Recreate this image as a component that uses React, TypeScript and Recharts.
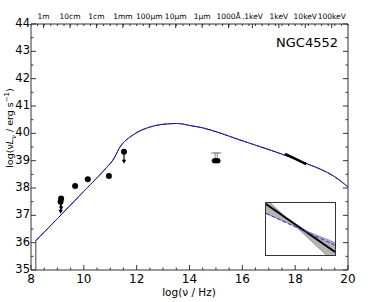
import React from "react";
import {
  ComposedChart,
  Line,
  Area,
  Scatter,
  ErrorBar,
  XAxis,
  YAxis,
} from "recharts";

// SED model curve (log nu, log nuLnu)
const modelX = [8.18, 9.0, 10.0, 10.88, 11.1, 11.37, 11.86, 12.5, 13.0, 13.53, 14.0, 14.5, 15.16, 15.9, 17.05, 18.0, 18.57, 19.0, 19.45, 20.0];
const modelY = [36.07, 36.88, 37.88, 38.77, 39.02, 39.5, 39.94, 40.23, 40.33, 40.36, 40.29, 40.2, 40.01, 39.76, 39.39, 39.06, 38.84, 38.67, 38.44, 38.04];

// low-frequency cutoff of the model
const cutX = [8.18, 8.18];
const cutY = [35, 36.07];

// photometry
const detX = [9.67, 10.15, 10.95];
const detY = [38.07, 38.32, 38.44];
const limX = [9.12, 9.14, 11.52];
const limY = [37.5, 37.62, 39.33];
const optX = [14.97, 15.05];
const optY = [39.0, 39.0];
const optErr = [0.28, 0.28];

// X-ray power law
const xrayX = [17.62, 18.42];
const xrayY = [39.25, 38.87];

// inset (zoom on the X-ray slope), arbitrary units
const insetX = [0, 0.44, 1];
const bandLo = [0.8, 0.54, -0.16];
const bandHi = [1.08, 0.54, 0.24];
const insetLineX = [0, 1];
const insetBlack = [0.98, 0.06];
const insetBlue = [0.8, 0.19];

// axis ticks
const xMajor = [8, 10, 12, 14, 16, 18, 20];
const xTicks = Array.from({ length: 25 }, (_, i) => 8 + i * 0.5);
const yTicks = Array.from({ length: 19 }, (_, i) => 35 + i * 0.5);
const topLabels = ["1m", "10cm", "1cm", "1mm", "100μm", "10μm", "1μm", "1000Å", ".1keV", "1keV", "10keV", "100keV"];
const topPos = [8.477, 9.477, 10.477, 11.477, 12.477, 13.477, 14.477, 15.477, 16.383, 17.383, 18.383, 19.383];
const topMinor = Array.from({ length: 49 }, (_, i) => 8 + i * 0.25);

const FONT = "DejaVu Sans, sans-serif";
const AX = "#333";

const zip = (xs: number[], ys: number[]) => xs.map((x, i) => ({ x, y: ys[i] }));

const modelData = zip(modelX, modelY);
const cutData = zip(cutX, cutY);
const detData = zip(detX, detY);
const limData = zip(limX, limY);
const optData = optX.map((x, i) => ({ x, y: optY[i], err: [0, optErr[i]] }));
const xrayData = zip(xrayX, xrayY);

const bandData = insetX.map((x, i) => ({ x, band: [bandLo[i], bandHi[i]] }));
const blackData = zip(insetLineX, insetBlack);
const blueData = zip(insetLineX, insetBlue);

const BottomTick = (p: any) => {
  const v = p.payload.value;
  const major = xMajor.includes(v);
  return (
    <g>
      <line x1={p.x} y1={p.y} x2={p.x} y2={p.y - (major ? 5 : 2.5)} stroke={AX} />
      {major && (
        <text x={p.x} y={p.y + 13} textAnchor="middle" fontSize={12} fontFamily={FONT} fill="#000">
          {v}
        </text>
      )}
    </g>
  );
};

const TopTick = (p: any) => {
  const v = p.payload.value;
  const idx = topPos.findIndex((t) => Math.abs(t - v) < 1e-6);
  return (
    <g>
      <line x1={p.x} y1={p.y} x2={p.x} y2={p.y + (idx >= 0 ? 4 : 2)} stroke={AX} />
      {idx >= 0 && (
        <text x={p.x} y={p.y - 5} textAnchor="middle" fontSize={7.5} fontFamily={FONT} fill="#000">
          {topLabels[idx]}
        </text>
      )}
    </g>
  );
};

const LeftTick = (p: any) => {
  const v = p.payload.value;
  const major = Number.isInteger(v);
  return (
    <g>
      <line x1={p.x} y1={p.y} x2={p.x + (major ? 5 : 2.5)} y2={p.y} stroke={AX} />
      {major && (
        <text x={p.x - 1} y={p.y + 3} textAnchor="end" fontSize={11.5} fontFamily={FONT} fill="#000">
          {v}
        </text>
      )}
    </g>
  );
};

const RightTick = (p: any) => {
  const major = Number.isInteger(p.payload.value);
  return <line x1={p.x} y1={p.y} x2={p.x - (major ? 5 : 2.5)} y2={p.y} stroke={AX} />;
};

const Dot = (p: any) => <circle cx={p.cx} cy={p.cy} r={3} fill="#000" />;

const UpperLimit = (p: any) => (
  <g>
    <circle cx={p.cx} cy={p.cy} r={3} fill="#000" />
    <line x1={p.cx} y1={p.cy} x2={p.cx} y2={p.cy + 10} stroke="#000" strokeWidth={1.2} />
    <path d={`M${p.cx - 2.2},${p.cy + 8} L${p.cx + 2.2},${p.cy + 8} L${p.cx},${p.cy + 12} Z`} fill="#000" />
  </g>
);

const OptMark = (p: any) => <rect x={p.cx - 3} y={p.cy - 2.5} width={6} height={5} rx={1.5} fill="#000" />;

export default function App() {
  return (
    <div style={{ position: "absolute", left: 0, top: 0, width: 382, height: 302, background: "#fff" }}>
      <ComposedChart width={382} height={302} margin={{ top: 0, right: 0, bottom: 0, left: 0 }}>
        <XAxis
          xAxisId="b"
          type="number"
          dataKey="x"
          domain={[8, 20]}
          ticks={xTicks}
          interval={0}
          height={32}
          tickSize={0}
          tickMargin={0}
          tick={BottomTick}
          axisLine={{ stroke: AX }}
          tickLine={false}
        />
        <XAxis
          xAxisId="t"
          orientation="top"
          type="number"
          dataKey="x"
          domain={[8, 20]}
          ticks={[...topMinor, ...topPos].sort((a, b) => a - b)}
          interval={0}
          height={24}
          tickSize={0}
          tickMargin={0}
          tick={TopTick}
          axisLine={{ stroke: AX }}
          tickLine={false}
        />
        <YAxis
          yAxisId="l"
          type="number"
          domain={[35, 44]}
          ticks={yTicks}
          interval={0}
          width={31}
          tickSize={0}
          tickMargin={0}
          tick={LeftTick}
          axisLine={{ stroke: AX }}
          tickLine={false}
        />
        <YAxis
          yAxisId="r"
          orientation="right"
          type="number"
          domain={[35, 44]}
          ticks={yTicks}
          interval={0}
          width={34}
          tickSize={0}
          tickMargin={0}
          tick={RightTick}
          axisLine={{ stroke: AX }}
          tickLine={false}
        />
        {/* invisible copy so the top / right axes get ticks */}
        <Line xAxisId="t" yAxisId="r" data={modelData} dataKey="y" stroke="none" dot={false} isAnimationActive={false} />
        <Line xAxisId="b" yAxisId="l" data={cutData} dataKey="y" stroke="#808080" strokeWidth={1.5} dot={false} isAnimationActive={false} />
        <Line xAxisId="b" yAxisId="l" data={modelData} dataKey="y" type="monotone" stroke="#000" strokeWidth={1} dot={false} isAnimationActive={false} />
        <Line xAxisId="b" yAxisId="l" data={modelData} dataKey="y" type="monotone" stroke="#2a2aff" strokeWidth={1} strokeDasharray="5 2" dot={false} isAnimationActive={false} />
        <Line xAxisId="b" yAxisId="l" data={xrayData} dataKey="y" stroke="#000" strokeWidth={2.5} dot={false} isAnimationActive={false} />
        <Scatter xAxisId="b" yAxisId="l" data={detData} dataKey="y" shape={Dot} isAnimationActive={false} />
        <Scatter xAxisId="b" yAxisId="l" data={limData} dataKey="y" shape={UpperLimit} isAnimationActive={false} />
        <Scatter xAxisId="b" yAxisId="l" data={optData} dataKey="y" shape={OptMark} isAnimationActive={false}>
          <ErrorBar dataKey="err" direction="y" width={4} stroke="#888" strokeWidth={1} />
        </Scatter>
        <text x={338} y={47} textAnchor="end" fontSize={13} fontFamily={FONT} fill="#000">
          NGC4552
        </text>
        <text x={189} y={296} textAnchor="middle" fontSize={10.5} fontFamily={FONT} fill="#000">
          log(ν / Hz)
        </text>
        <text x={13} y={128} textAnchor="middle" fontSize={9.5} fontFamily={FONT} fill="#000" transform="rotate(-90 13 128)">
          log(ν<tspan fontStyle="italic">L</tspan>
          <tspan fontSize={7} dy={3}>ν</tspan>
          <tspan dy={-3}> / erg s</tspan>
          <tspan fontSize={7} dy={-4}>−1</tspan>
          <tspan dy={4}>)</tspan>
        </text>
      </ComposedChart>
      <div
        style={{
          position: "absolute",
          left: 265,
          top: 202,
          width: 71,
          height: 54,
          boxSizing: "border-box",
          border: "1px solid #333",
          background: "#fff",
          overflow: "hidden",
        }}
      >
        <ComposedChart width={69} height={52} margin={{ top: 0, right: 0, bottom: 0, left: 0 }}>
          <XAxis type="number" dataKey="x" domain={[0, 1]} hide />
          <YAxis type="number" domain={[0, 1]} allowDataOverflow hide />
          <Area data={bandData} dataKey="band" type="linear" fill="#b4b4b4" fillOpacity={1} stroke="#8a8a8a" strokeWidth={0.8} isAnimationActive={false} />
          <Line data={blackData} dataKey="y" stroke="#000" strokeWidth={2} dot={false} isAnimationActive={false} />
          <Line data={blueData} dataKey="y" stroke="#2a2aff" strokeWidth={1} strokeDasharray="4 2" dot={false} isAnimationActive={false} />
        </ComposedChart>
      </div>
    </div>
  );
}
